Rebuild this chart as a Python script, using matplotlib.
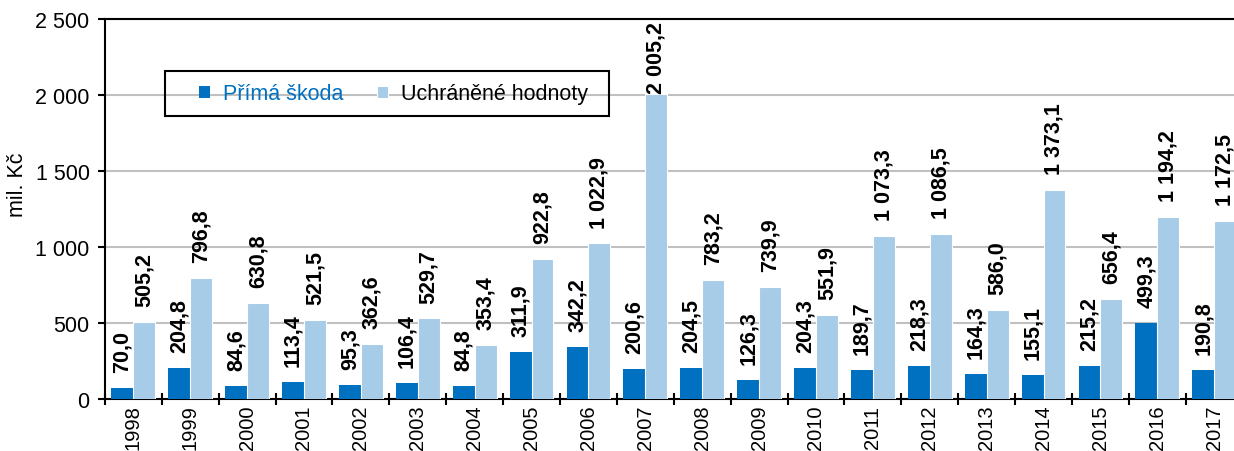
# coding:utf-8
# Přímá škoda a uchráněné hodnoty 1998-2017 (mil. Kč)

import numpy as np
import matplotlib
matplotlib.use('Agg')
import matplotlib.pyplot as plt
from matplotlib.patches import Rectangle
from matplotlib.ticker import FuncFormatter, FixedLocator

years = ['1998', '1999', '2000', '2001', '2002', '2003', '2004', '2005', '2006', '2007',
         '2008', '2009', '2010', '2011', '2012', '2013', '2014', '2015', '2016', '2017']
prima_skoda = [70.0, 204.8, 84.6, 113.4, 95.3, 106.4, 84.8, 311.9, 342.2, 200.6,
               204.5, 126.3, 204.3, 189.7, 218.3, 164.3, 155.1, 215.2, 499.3, 190.8]
uchranene = [505.2, 796.8, 630.8, 521.5, 362.6, 529.7, 353.4, 922.8, 1022.9, 2005.2,
             783.2, 739.9, 551.9, 1073.3, 1086.5, 586.0, 1373.1, 656.4, 1194.2, 1172.5]

plt.rcParams['font.family'] = ['Liberation Sans', 'DejaVu Sans']

DARK = '#0070C0'
LIGHT = '#A6CCE8'
FS = 15.5


def cz_num(v, dec=1):
    # česká čísla: mezera jako oddělovač tisíců, čárka jako desetinná
    s = f'{v:,.{dec}f}'
    return s.replace(',', ' ').replace('.', ',')


fig = plt.figure(figsize=(12.34, 4.52), dpi=100)
ax = fig.add_axes([0.085, 0.115, 0.922, 0.841])

x = np.arange(len(years))
w = 0.385
b1 = ax.bar(x - w / 2, prima_skoda, width=w, color=DARK, label='Přímá škoda', zorder=3)
b2 = ax.bar(x + w / 2, uchranene, width=w, color=LIGHT, edgecolor='white', linewidth=0.8,
            label='Uchráněné hodnoty', zorder=3)

ax.set_xlim(-0.5, len(years) - 0.5)
ax.set_ylim(0, 2500)

labels = []
for bars, vals in ((b1, prima_skoda), (b2, uchranene)):
    for r, v in zip(bars, vals):
        t = ax.annotate(cz_num(v), (r.get_x() + r.get_width() / 2, v),
                        xytext=(0, 11.5), textcoords='offset points',
                        rotation=90, ha='center', va='bottom',
                        fontsize=FS, fontweight='bold', annotation_clip=False)
        labels.append(t)

ax.set_yticks(np.arange(0, 2501, 500))
ax.yaxis.set_major_formatter(FuncFormatter(lambda v, p: cz_num(v, 0)))
ax.set_xticks(x)
ax.set_xticklabels(years, rotation=90, fontsize=14.5)
ax.xaxis.set_minor_locator(FixedLocator(np.arange(-0.5, len(years), 1.0)))
ax.tick_params(axis='x', which='major', length=0, pad=4)
ax.tick_params(axis='x', which='minor', direction='inout', length=9, width=1.5)
ax.tick_params(axis='y', labelsize=FS, length=5, width=1.5, pad=6)

ax.grid(axis='y', color='#C0C0C0', linewidth=1.5, zorder=0)
for s in ('left', 'bottom', 'top'):
    ax.spines[s].set_linewidth(1.5)
ax.spines['right'].set_visible(False)

ax.set_ylabel('mil. Kč', fontsize=FS)
ax.yaxis.set_label_coords(-0.068, 0.566)

# legenda bez vlastního rámu, rám kreslený zvlášť
leg = fig.legend(handles=[b1, b2], loc='center left', bbox_to_anchor=(0.161, 0.79),
                 ncol=2, fontsize=FS, frameon=False,
                 handlelength=0.52, handleheight=0.52, handletextpad=0.6,
                 columnspacing=1.55, borderpad=0, borderaxespad=0)
leg.get_texts()[0].set_color(DARK)
fig.add_artist(Rectangle((0.1337, 0.7412), 0.3598, 0.0996, transform=fig.transFigure,
                         fill=False, edgecolor='black', linewidth=1.5, zorder=5))

# popisky, které by přesáhly horní okraj, se posunou dolů
fig.canvas.draw()
renderer = fig.canvas.get_renderer()
top = ax.get_window_extent().y1
for t in labels:
    bb = t.get_window_extent(renderer)
    if bb.y1 > top - 2:
        shift = (bb.y1 - top + 2) * 72 / fig.dpi
        t.xyann = (0, 11.5 - shift)

fig.savefig('out.png', dpi=100)
